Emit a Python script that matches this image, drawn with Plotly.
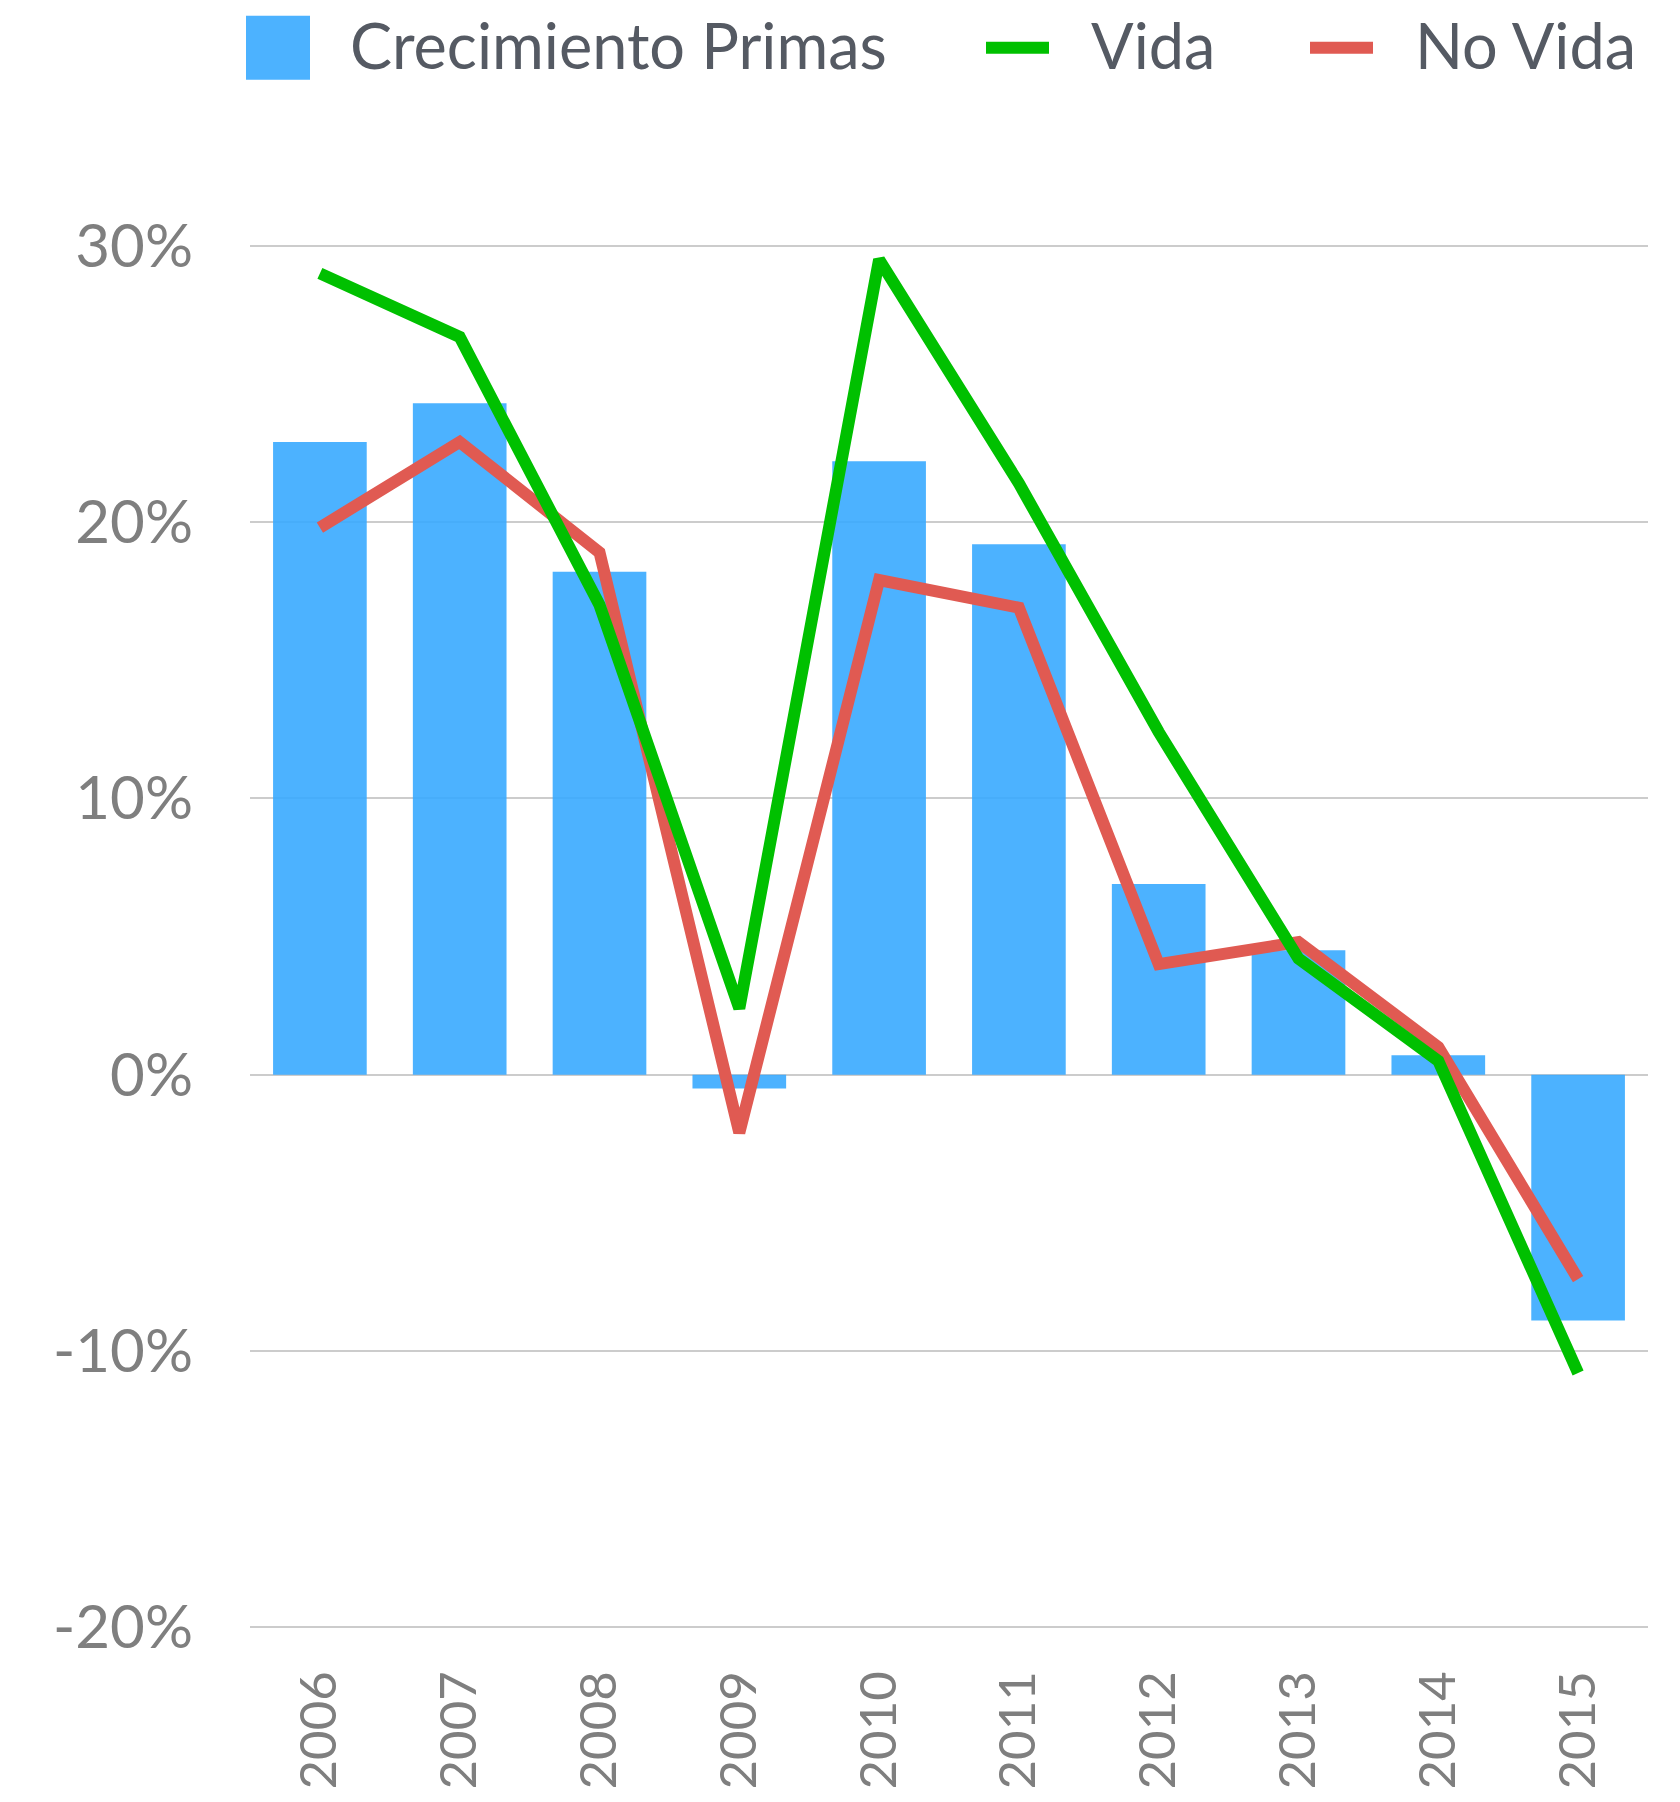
import plotly.graph_objects as go

years = ["2006", "2007", "2008", "2009", "2010", "2011", "2012", "2013", "2014", "2015"]
crecimiento_primas = [22.9, 24.3, 18.2, -0.5, 22.2, 19.2, 6.9, 4.5, 0.7, -8.9]
vida = [29.0, 26.7, 17.0, 2.4, 29.5, 21.4, 12.4, 4.2, 0.5, -10.8]
no_vida = [19.8, 22.9, 18.9, -2.1, 17.9, 16.9, 4.0, 4.8, 1.0, -7.4]

y_ticks = [-20, -10, 0, 10, 20, 30]
y_ticklabels = ["-20%", "-10%", "0%", "10%", "20%", "30%"]

legend_names = ["Crecimiento Primas", "Vida", "No Vida"]

BAR_COLOR = "rgba(57,170,255,0.9)"
VIDA_COLOR = "#00c000"
NOVIDA_COLOR = "#e05a52"
FONT = "Lato"

W, H = 1680, 1802
PAD = 0.1
PX_PER_UNIT = (1627 - 246) / 50.0
L, R = 250, 32
T = 246 - PAD * PX_PER_UNIT
B = (H - 1627) - PAD * PX_PER_UNIT
PW, PH = W - L - R, H - T - B


def px_x(px):
    return (px - L) / PW


def px_y(py):
    return (H - B - py) / PH


fig = go.Figure()
fig.add_trace(go.Bar(x=years, y=crecimiento_primas, name=legend_names[0],
                     marker=dict(color=BAR_COLOR, line=dict(width=0))))
fig.add_trace(go.Scatter(x=years, y=no_vida, name=legend_names[2], mode="lines",
                         line=dict(color=NOVIDA_COLOR, width=12)))
fig.add_trace(go.Scatter(x=years, y=vida, name=legend_names[1], mode="lines",
                         line=dict(color=VIDA_COLOR, width=12)))

# custom legend (symbols + text)
shapes = [
    dict(type="rect", xref="paper", yref="paper", x0=px_x(246), x1=px_x(310),
         y0=px_y(80), y1=px_y(16), fillcolor=BAR_COLOR, line=dict(width=0)),
    dict(type="line", xref="paper", yref="paper", x0=px_x(986), x1=px_x(1049),
         y0=px_y(48), y1=px_y(48), line=dict(color=VIDA_COLOR, width=12)),
    dict(type="line", xref="paper", yref="paper", x0=px_x(1310), x1=px_x(1373),
         y0=px_y(48), y1=px_y(48), line=dict(color=NOVIDA_COLOR, width=12)),
]
annotations = []
for name, px in zip(legend_names, [348, 1089, 1413]):
    annotations.append(dict(text=name, xref="paper", yref="paper", x=px_x(px), y=px_y(45),
                            xanchor="left", yanchor="middle", showarrow=False,
                            font=dict(family=FONT, size=63, color="#555a63")))

fig.update_layout(
    width=W, height=H, autosize=False,
    margin=dict(l=L, r=R, t=T, b=B, pad=0),
    paper_bgcolor="white", plot_bgcolor="white",
    showlegend=False,
    bargap=0.33,
    shapes=shapes,
    annotations=annotations,
    font=dict(family=FONT, color="#7f7f7f"),
)
fig.update_xaxes(
    type="category", tickangle=-90, showgrid=False, showline=False, zeroline=False,
    tickfont=dict(family=FONT, size=51, color="#7f7f7f"),
    ticks="", ticklabelstandoff=30, automargin=False,
)
fig.update_yaxes(
    range=[-20 - PAD, 30 + PAD], tickvals=y_ticks, ticktext=y_ticklabels,
    showgrid=True, gridcolor="#cccccc", gridwidth=1.5,
    zeroline=True, zerolinecolor="#cccccc", zerolinewidth=1.5,
    showline=False, ticks="", ticklabelstandoff=56, automargin=False,
    tickfont=dict(family=FONT, size=60, color="#7f7f7f"),
)

fig.write_html("out.html", config={"displayModeBar": False},
               post_script="document.body.style.margin='0';")
